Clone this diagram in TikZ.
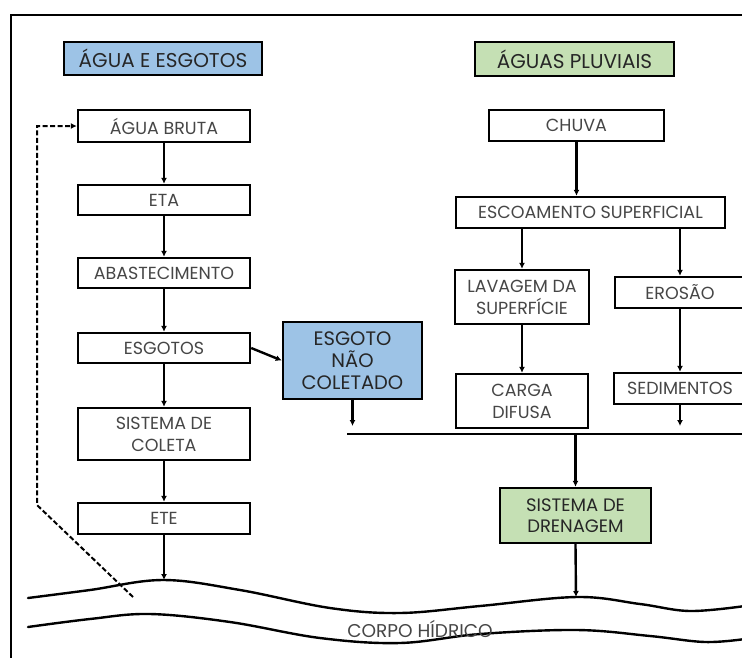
\documentclass[tikz,border=0pt]{standalone}
\usepackage{fontspec}
\setmainfont{Poppins}
\usetikzlibrary{arrows.meta}
\definecolor{bluefill}{RGB}{157,195,230}
\definecolor{greenfill}{RGB}{197,224,180}
\definecolor{txt}{RGB}{70,70,70}
\begin{document}
\begin{tikzpicture}[x=1pt,y=-1pt,
  stepbox/.style={draw=black, line width=2.4pt, fill=white, inner sep=0pt, align=center,
    text=txt, font=\fontsize{17.5}{22}\selectfont},
  headbox/.style={draw=black, line width=2.4pt, inner sep=0pt, align=center,
    text=black!85, font=\fontsize{20}{22}\selectfont},
  arr/.style={line width=2.4pt, -{Latex[length=6pt,width=6pt]}},
  wave/.style={line width=2.4pt, line cap=round}
]
\useasboundingbox (0,0) rectangle (742,657);
% frame
\draw[line width=2.4pt] (11,660) -- (11,15) -- (745,15);

% headers
\node[headbox, fill=bluefill, minimum width=198pt, minimum height=33pt] (h1) at (163,58.5) {ÁGUA E ESGOTOS};
\node[headbox, fill=greenfill, minimum width=199pt, minimum height=34pt] (h2) at (574.5,59) {ÁGUAS PLUVIAIS};

% left column
\node[stepbox, minimum width=172pt, minimum height=32pt] (bruta) at (164,126) {ÁGUA BRUTA};
\node[stepbox, minimum width=172pt, minimum height=30pt] (eta) at (164,200) {ETA};
\node[stepbox, minimum width=172pt, minimum height=30pt] (abast) at (164,273) {ABASTECIMENTO};
\node[stepbox, minimum width=172pt, minimum height=30pt] (esgotos) at (164,348) {ESGOTOS};
\node[stepbox, minimum width=172pt, minimum height=52pt] (coleta) at (164,434) {SISTEMA DE\\COLETA};
\node[stepbox, minimum width=172pt, minimum height=31pt] (ete) at (164,518.5) {ETE};

\node[stepbox, fill=bluefill, minimum width=139pt, minimum height=77pt, text=black!85,
  font=\fontsize{19.5}{22}\selectfont] (nao) at (352.5,360.5) {ESGOTO\\NÃO\\COLETADO};

% right column
\node[stepbox, minimum width=175pt, minimum height=31pt] (chuva) at (576.5,125.5) {CHUVA};
\node[stepbox, minimum width=269pt, minimum height=31pt] (escoam) at (590.5,212.5) {ESCOAMENTO SUPERFICIAL};
\node[stepbox, minimum width=134pt, minimum height=54pt] (lavagem) at (522,297) {LAVAGEM DA\\SUPERFÍCIE};
\node[stepbox, minimum width=130pt, minimum height=31pt] (erosao) at (680,292.5) {EROSÃO};
\node[stepbox, minimum width=132pt, minimum height=54pt] (carga) at (522,401) {CARGA\\DIFUSA};
\node[stepbox, minimum width=132pt, minimum height=31pt] (sedim) at (680,388.5) {SEDIMENTOS};
\node[stepbox, fill=greenfill, minimum width=151pt, minimum height=55pt, text=black!85,
  font=\fontsize{18}{21}\selectfont] (dren) at (575.5,515.5) {SISTEMA DE\\DRENAGEM};

% coordinates
\coordinate (busL) at (347,434);
\coordinate (busR) at (745,434);
\coordinate (tipA) at (352,426);
\coordinate (tipB) at (680,426);
\coordinate (w1) at (164,580);
\coordinate (w2) at (576,597);
\coordinate (d1) at (37,126);
\coordinate (d2) at (37,505);
\coordinate (d3) at (133,597);

% left arrows
\draw[arr] (bruta) -- (eta);
\draw[arr] (eta) -- (abast);
\draw[arr] (abast) -- (esgotos);
\draw[arr] (esgotos) -- (coleta);
\draw[arr] (coleta) -- (ete);
\draw[arr] (ete.south) -- (w1);
\draw[arr] (esgotos.east) -- (nao.west);
\draw[arr] (nao.south) -- (nao.south |- tipA);

% right arrows
\draw[arr] (chuva.south) -- (chuva.south |- escoam.north);
\draw[arr] (lavagem.north |- escoam.south) -- (lavagem.north);
\draw[arr] (erosao.north |- escoam.south) -- (erosao.north);
\draw[arr] (lavagem) -- (carga);
\draw[arr] (erosao) -- (sedim);
\draw[arr] (sedim.south) -- (sedim.south |- tipB);
\draw[line width=2.4pt] (busL) -- (busR);
\draw[arr] (dren.north |- busL) -- (dren.north);
\draw[arr] (dren.south) -- (w2);

% dashed return
\draw[line width=2pt, dash pattern=on 5pt off 2.5pt, -{Latex[length=6pt,width=6pt]}]
  (d3) -- (d2) -- (d1) -- (bruta.west);

% water body
\draw[wave] plot[smooth, tension=0.6] coordinates {(28,598) (90,590) (163,580) (240,590) (330,608) (400,613) (480,606) (577,597) (640,604) (690,611) (745,606)};
\draw[wave] plot[smooth, tension=0.6] coordinates {(28,627) (90,619) (150,614) (230,622) (320,638) (400,643) (480,634) (577,630) (650,636) (705,642) (745,639)};
\node[text=txt, font=\fontsize{18.5}{20}\selectfont, inner sep=0pt] (corpo) at (420,629) {CORPO HÍDRICO};
\end{tikzpicture}
\end{document}
